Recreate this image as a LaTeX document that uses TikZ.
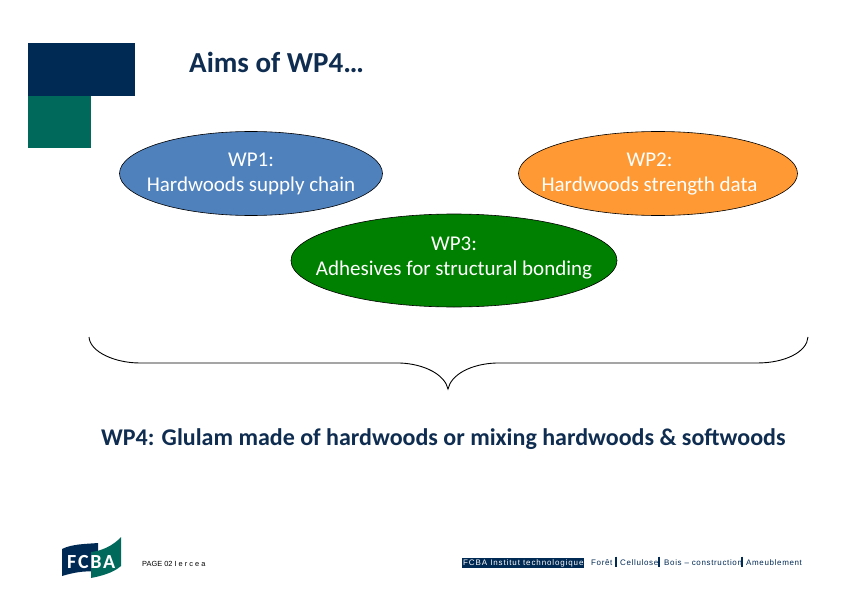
\documentclass[tikz,border=0pt]{standalone}
\usepackage{fontspec}
\setmainfont{Carlito}
\newfontfamily\smallsans{Liberation Sans}
\newfontfamily\footfont[LetterSpace=8]{Liberation Sans}
\newfontfamily\instfont[LetterSpace=11]{Liberation Sans}
\newfontfamily\logofont[LetterSpace=9]{Carlito}
\usetikzlibrary{shapes.geometric}
\definecolor{navy}{HTML}{002A54}
\definecolor{teal}{HTML}{00695C}
\definecolor{blueell}{HTML}{4F81BD}
\definecolor{orangeell}{HTML}{FF9933}
\definecolor{greenell}{HTML}{008000}
\definecolor{titlec}{HTML}{0F2D50}
% #1 doubled horizontal offset, #2 raise, #3 #4 lines
\newcommand{\twolines}[4]{\raisebox{#2}[\height][\depth]{\makebox[0pt][c]{\hspace*{#1}\begin{tabular}{@{}c@{}}#3\\#4\end{tabular}}}}
\tikzset{
  wp/.style={ellipse,draw=black,line width=0.6pt,inner sep=0pt,outer sep=0pt,text=white,font=\fontsize{21}{25}\selectfont},
  footer/.style={font=\footfont\fontsize{8}{9}\selectfont,inner sep=0pt,anchor=base west,text=navy}
}
\begin{document}
\begin{tikzpicture}[x=1pt,y=-1pt]
\useasboundingbox (0,0) rectangle (842,596);
\fill[white] (0,0) rectangle (842,596);
\fill[navy] (28,43) rectangle (135,96);
\fill[teal] (28,96) rectangle (90.5,148);
\node[anchor=base west,inner sep=0pt,text=titlec,font=\bfseries\fontsize{29}{32}\selectfont] (title) at (189,73) {Aims of WP4\dots};
\node[wp,fill=blueell,minimum width=263pt,minimum height=84pt] (wp1) at (251,173.5) {\twolines{0pt}{-0.5pt}{WP1:}{Hardwoods supply chain}};
\node[wp,fill=orangeell,minimum width=279pt,minimum height=84pt] (wp2) at (658,173.5) {\twolines{-17pt}{-0.5pt}{WP2:}{Hardwoods strength data}};
\node[wp,fill=greenell,minimum width=326pt,minimum height=93pt] (wp3) at (454,260.5) {\twolines{0pt}{3pt}{WP3:}{Adhesives for structural bonding}};
\coordinate (bl) at (89,337);
\coordinate (br) at (808,337);
\coordinate (bt) at (448,389);
\draw[line width=0.9pt] (bl) .. controls (90,352) and (115,363) .. (140,363)
  -- (400,363) .. controls (425,364) and (445,375) .. (bt)
  .. controls (451,375) and (470,364) .. (496,363)
  -- (757,363) .. controls (785,363) and (807,352) .. (br);
\node[anchor=base west,inner sep=0pt,text=titlec,font=\bfseries\fontsize{24}{27}\selectfont] (wp4) at (101,445) {WP4: Glulam made of hardwoods or mixing hardwoods \& softwoods};
% logo
\fill[navy] (62,549) .. controls (72,544) and (85,544) .. (98,543) -- (98,572) .. controls (85,570) and (72,573) .. (62,576) -- cycle;
\fill[teal] (91,552) .. controls (101,551) and (113,546) .. (121,537) -- (121,566) .. controls (113,573) and (101,576) .. (91,578) -- cycle;
\node[anchor=base west,inner sep=0pt,text=white,font=\logofont\bfseries\fontsize{20}{20}\selectfont] (logo) at (67,568) {FCBA};
\node[footer,text=black,font=\smallsans\fontsize{7.4}{8}\selectfont] (page) at (142,566) {PAGE 02 I e r c e a};
\node[anchor=base west,fill=navy,text=white,font=\instfont\fontsize{8}{9}\selectfont,inner xsep=1pt,inner ysep=1.5pt] (inst) at (462,565) {FCBA Institut technologique};
\node[footer] (f1) at (591,565) {Forêt};
\node[footer] (f2) at (620,565) {Cellulose};
\node[footer] (f3) at (664,565) {Bois – construction};
\node[footer] (f4) at (746,565) {Ameublement};
\draw[navy,line width=1.5pt] (616,556.5) -- (616,567);
\draw[navy,line width=1.5pt] (659,556.5) -- (659,567);
\draw[navy,line width=1.5pt] (742,556.5) -- (742,567);
\end{tikzpicture}
\end{document}
